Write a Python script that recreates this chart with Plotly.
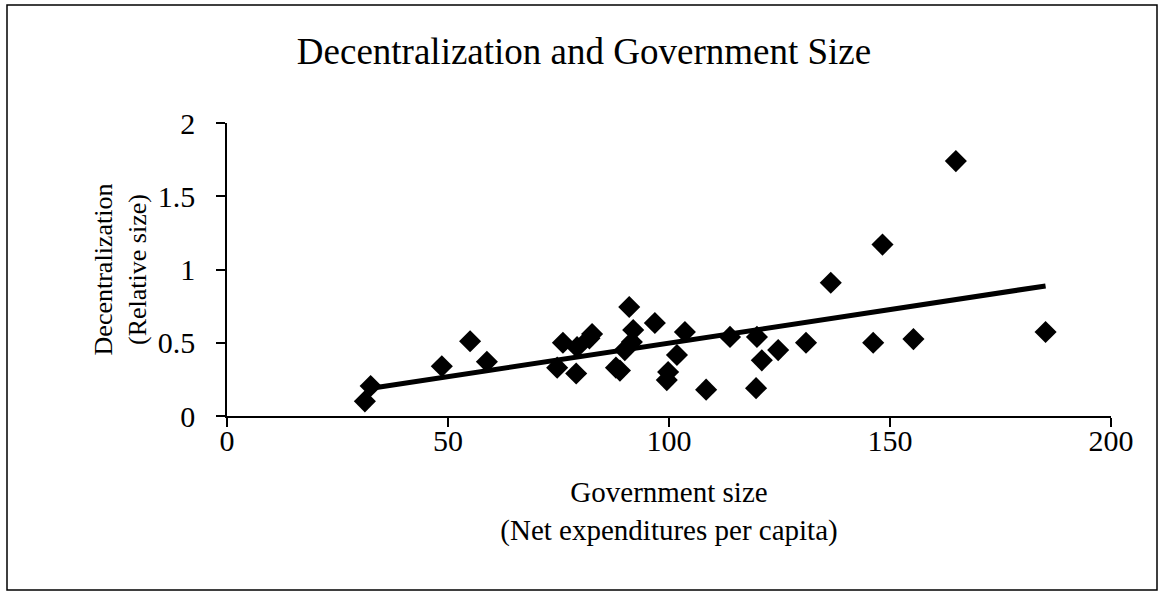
import numpy as np
import plotly.graph_objects as go

# Data
gov_size = [31.2, 32.5, 48.6, 55.0, 58.8, 74.7, 76.0, 79.0, 79.2, 82.0, 82.6,
            88.0, 88.9, 90.0, 91.0, 91.6, 91.9, 96.8, 99.5, 99.8, 101.8, 103.6,
            108.4, 113.8, 119.7, 119.9, 121.0, 124.7, 131.0, 136.6, 146.2,
            148.3, 155.3, 164.9, 185.2]
decentral = [0.10, 0.205, 0.34, 0.51, 0.37, 0.33, 0.50, 0.29, 0.47, 0.53, 0.56,
             0.33, 0.31, 0.45, 0.744, 0.505, 0.587, 0.635, 0.245, 0.30, 0.416,
             0.573, 0.18, 0.54, 0.19, 0.54, 0.38, 0.45, 0.50, 0.91, 0.50,
             1.17, 0.525, 1.74, 0.573]

x_ticks = [0, 50, 100, 150, 200]
y_ticks = [0, 0.5, 1, 1.5, 2]

title = "Decentralization and Government Size"
x_title = "Government size<br>(Net expenditures per capita)"
y_title = "Decentralization<br>(Relative size)"

# Linear trend line fitted to the data
slope, intercept = np.polyfit(gov_size, decentral, 1)
tx = [min(gov_size), max(gov_size)]
ty = [intercept + slope * v for v in tx]

FONT = "Times New Roman, Liberation Serif, serif"

fig = go.Figure()
fig.add_trace(go.Scatter(x=tx, y=ty, mode="lines",
                         line=dict(color="black", width=5),
                         showlegend=False, hoverinfo="skip"))
fig.add_trace(go.Scatter(x=gov_size, y=decentral, mode="markers",
                         marker=dict(symbol="diamond", size=17, color="black",
                                     line=dict(width=0)),
                         showlegend=False))

L, R, T, B = 227, 50, 123, 180
W, H = 1161, 596
pw, ph = W - L - R, H - T - B

def px2paper_x(px):
    return (px - L) / pw

def py2paper_y(py):
    return (H - B - py) / ph

fig.update_layout(
    width=W, height=H,
    margin=dict(l=L, r=R, t=T, b=B),
    paper_bgcolor="white", plot_bgcolor="white",
    font=dict(family=FONT, color="black", size=28),
    title=dict(text=title, x=px2paper_x(584), xref="paper", xanchor="center",
               y=1 - 51 / H, yanchor="middle",
               font=dict(family=FONT, size=37, color="black")),
    xaxis=dict(range=[0, 200], tickvals=x_ticks, ticks="outside", ticklen=9,
               tickwidth=1.5, tickcolor="black", showline=True,
               linecolor="black", linewidth=1.5, showgrid=False, zeroline=False,
               tickfont=dict(size=30), ticklabelstandoff=-12,
               title=dict(text=x_title, font=dict(size=29), standoff=26)),
    yaxis=dict(range=[0, 2], tickvals=y_ticks, ticks="outside", ticklen=9,
               tickwidth=1.5, tickcolor="black", showline=True,
               linecolor="black", linewidth=1.5, showgrid=False, zeroline=False,
               tickfont=dict(size=30), ticklabelstandoff=15,
               title=dict(text=y_title, font=dict(size=26), standoff=4)),
    shapes=[dict(type="rect", xref="paper", yref="paper",
                 x0=px2paper_x(7), x1=px2paper_x(1157),
                 y0=py2paper_y(590), y1=py2paper_y(5),
                 line=dict(color="black", width=1.5))],
)

fig.write_html("out.html", config={"displayModeBar": False},
               post_script="document.body.style.margin='0px';")
